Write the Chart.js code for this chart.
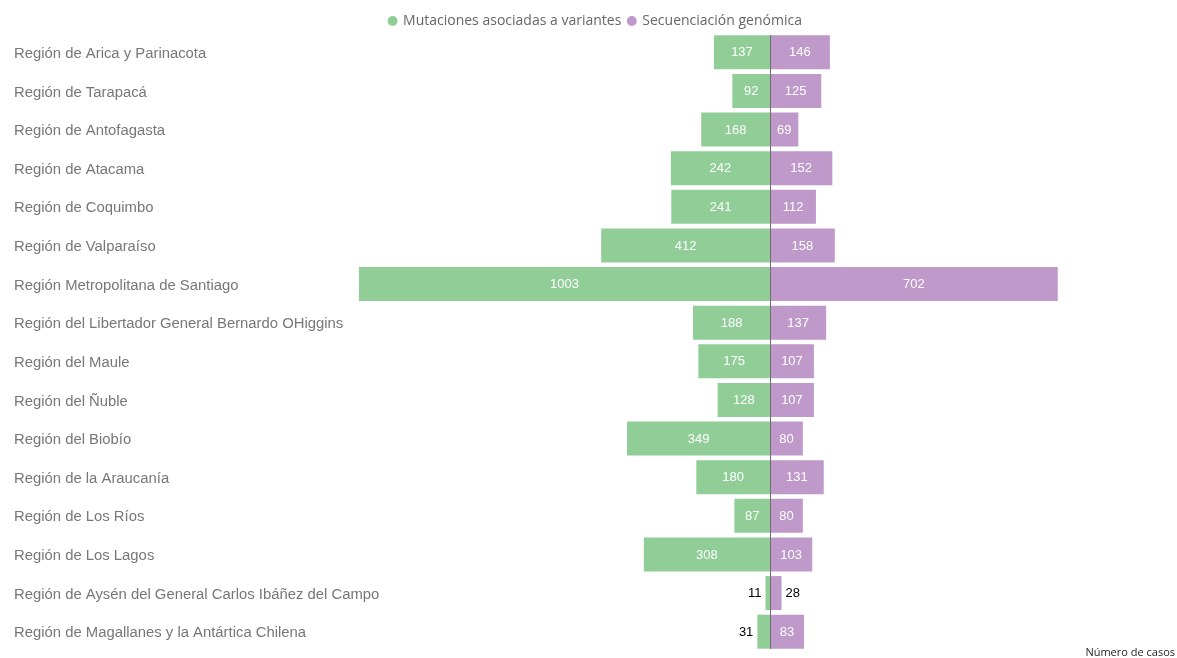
<!DOCTYPE html>
<html>
<head>
<meta charset="utf-8">
<script src="https://cdn.jsdelivr.net/npm/chart.js@4.4.1/dist/chart.umd.min.js"></script>
<style>
html,body{margin:0;padding:0;background:#fff;}
#wrap{width:1177px;height:658px;position:relative;}
</style>
</head>
<body>
<div id="wrap"><canvas id="c"></canvas></div>
<script>
const categories = [
  "Región de Arica y Parinacota",
  "Región de Tarapacá",
  "Región de Antofagasta",
  "Región de Atacama",
  "Región de Coquimbo",
  "Región de Valparaíso",
  "Región Metropolitana de Santiago",
  "Región del Libertador General Bernardo OHiggins",
  "Región del Maule",
  "Región del Ñuble",
  "Región del Biobío",
  "Región de la Araucanía",
  "Región de Los Ríos",
  "Región de Los Lagos",
  "Región de Aysén del General Carlos Ibáñez del Campo",
  "Región de Magallanes y la Antártica Chilena"
];
const mutaciones = [137, 92, 168, 242, 241, 412, 1003, 188, 175, 128, 349, 180, 87, 308, 11, 31];
const secuenciacion = [146, 125, 69, 152, 112, 158, 702, 137, 107, 107, 80, 131, 80, 103, 28, 83];
const seriesNames = ["Mutaciones asociadas a variantes", "Secuenciación genómica"];
const axisTitle = "Número de casos";

const GREEN = "rgb(145,206,151)";
const PURPLE = "rgb(190,153,201)";

const legendShift = {
  id: "legendShift",
  afterInit(chart) {
    const lg = chart.legend;
    if (!lg) return;
    const fit = lg.fit.bind(lg);
    lg.fit = function () { fit(); this.height -= 5; };
  }
};

const labelPlugin = {
  id: "labelsAndLine",
  afterDatasetsDraw(chart) {
    const ctx = chart.ctx;
    const xs = chart.scales.x;
    const ys = chart.scales.y;
    const area = chart.chartArea;
    const x0 = xs.getPixelForValue(0);
    ctx.save();
    // category labels
    ctx.font = "14.85px 'Liberation Sans', Arial, sans-serif";
    ctx.fillStyle = "#777777";
    ctx.textAlign = "left";
    ctx.textBaseline = "middle";
    chart.data.labels.forEach((lab, i) => {
      ctx.fillText(lab, chart.options.layout.padding.left, ys.getPixelForValue(i) + 1.5);
    });
    // value labels
    ctx.font = "13px 'Liberation Sans', Arial, sans-serif";
    chart.data.datasets.forEach((ds, di) => {
      const meta = chart.getDatasetMeta(di);
      meta.data.forEach((bar, i) => {
        const v = Math.abs(ds.data[i]);
        const w = Math.abs(bar.x - bar.base);
        const y = bar.y + 0.5;
        if (w >= 28) {
          ctx.fillStyle = "#ffffff";
          ctx.textAlign = "center";
          ctx.fillText(String(v), (bar.x + bar.base) / 2, y);
        } else {
          ctx.fillStyle = "#000000";
          if (di === 0) {
            ctx.textAlign = "right";
            ctx.fillText(String(v), Math.min(bar.x, bar.base) - 4, y);
          } else {
            ctx.textAlign = "left";
            ctx.fillText(String(v), Math.max(bar.x, bar.base) + 4, y);
          }
        }
      });
    });
    ctx.strokeStyle = "#6e6e6e";
    ctx.lineWidth = 1;
    ctx.beginPath();
    ctx.moveTo(Math.round(x0) + 0.5, area.top + 2);
    ctx.lineTo(Math.round(x0) + 0.5, area.bottom - 2);
    ctx.stroke();
    ctx.fillStyle = "#252423";
    ctx.font = "11px 'Open Sans', sans-serif";
    ctx.textAlign = "right";
    ctx.textBaseline = "alphabetic";
    ctx.fillText(axisTitle, chart.width - 2, chart.height - 2);
    ctx.restore();
  }
};

new Chart(document.getElementById("c"), {
  type: "bar",
  data: {
    labels: categories,
    datasets: [
      { label: seriesNames[0], data: mutaciones.map(v => -v), backgroundColor: GREEN, barPercentage: 0.88, categoryPercentage: 1.0 },
      { label: seriesNames[1], data: secuenciacion, backgroundColor: PURPLE, barPercentage: 0.88, categoryPercentage: 1.0 }
    ]
  },
  options: {
    indexAxis: "y",
    responsive: true,
    maintainAspectRatio: false,
    animation: false,
    layout: { padding: { left: 14, right: 0, top: 7, bottom: 7 } },
    plugins: {
      tooltip: { enabled: false },
      legend: {
        position: "top",
        labels: {
          usePointStyle: true,
          pointStyle: "circle",
          boxWidth: 7,
          boxHeight: 7,
          padding: 7,
          color: "#666666",
          font: { family: "'Open Sans', sans-serif", size: 14 }
        }
      }
    },
    scales: {
      x: {
        stacked: true,
        min: -1003,
        max: 993,
        display: false,
        grid: { display: false }
      },
      y: {
        stacked: true,
        grid: { display: false },
        border: { display: false },
        afterFit(scale) { scale.width = 345; },
        ticks: { display: false }
      }
    }
  },
  plugins: [legendShift, labelPlugin]
});
</script>
</body>
</html>
